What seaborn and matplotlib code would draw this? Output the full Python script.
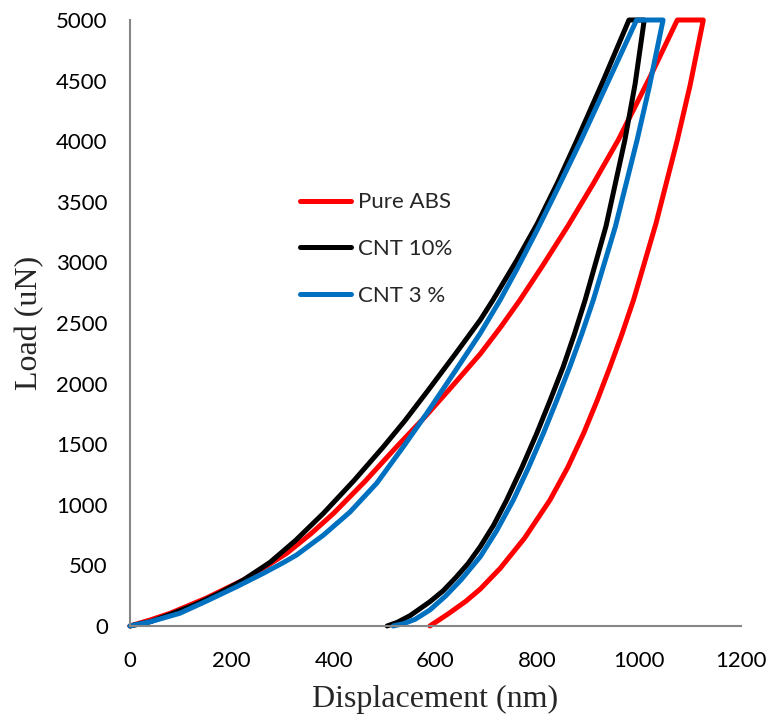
import matplotlib
matplotlib.use("Agg")
import matplotlib.pyplot as plt
import numpy as np
import pandas as pd
import seaborn as sns

sns.set_style("white")
plt.rcParams['font.family'] = ['Lato', 'DejaVu Sans']

# values (displacement in nm, load in uN)
# each curve: loading, hold at 5000 uN, unloading
abs_disp = [0, 40, 79, 150, 223, 265, 308, 355, 400, 462, 524, 580, 630, 688, 727, 766,
            810, 860, 910, 959, 1022, 1075,
            1126, 1100, 1075, 1033, 989, 966, 943, 918, 891, 860, 825, 775, 727, 688,
            660, 625, 589]
abs_load = [0, 50, 105, 230, 380, 485, 600, 760, 930, 1195, 1480, 1728, 1965, 2245, 2460, 2690,
            2970, 3300, 3650, 4010, 4535, 5000,
            5000, 4460, 4010, 3320, 2690, 2405, 2140, 1865, 1590, 1310, 1040, 725, 475, 305,
            205, 100, 0]

cnt10_disp = [0, 40, 85, 130, 175, 223, 275, 325, 380, 440, 498, 540, 586, 640, 688, 713,
              760, 800, 840, 878, 930, 980,
              1010, 992, 972, 935, 894, 873, 851, 825, 799, 770, 740, 714, 688, 664,
              640, 615, 589, 550, 525, 505]
cnt10_load = [0, 35, 105, 180, 270, 380, 525, 705, 930, 1200, 1480, 1694, 1947, 2250, 2525, 2690,
              3020, 3320, 3660, 4010, 4505, 5000,
              5000, 4470, 4010, 3300, 2690, 2410, 2140, 1860, 1590, 1310, 1040, 830, 655, 515,
              400, 290, 200, 85, 30, 0]

cnt3_disp = [0, 40, 98, 150, 210, 262, 300, 327, 380, 432, 485, 537, 583, 635, 688, 727,
             760, 800, 840, 885, 940, 995,
             1047, 1020, 996, 953, 910, 887, 864, 838, 812, 783, 753, 720, 688, 650,
             620, 589, 560, 538, 517]
cnt3_load = [0, 35, 105, 205, 325, 435, 520, 585, 750, 940, 1180, 1480, 1755, 2080, 2415, 2690,
             2945, 3270, 3610, 4000, 4500, 5000,
             5000, 4450, 4010, 3290, 2690, 2405, 2140, 1860, 1590, 1310, 1040, 785, 572, 380,
             248, 132, 55, 20, 0]

labels = ['Pure ABS', 'CNT 10%', 'CNT 3 %']
colors = ['#FF0000', '#000000', '#0070C0']

df = pd.concat([
    pd.DataFrame({'disp': abs_disp, 'load': abs_load, 'sample': labels[0]}),
    pd.DataFrame({'disp': cnt10_disp, 'load': cnt10_load, 'sample': labels[1]}),
    pd.DataFrame({'disp': cnt3_disp, 'load': cnt3_load, 'sample': labels[2]}),
], ignore_index=True)

fig = plt.figure(figsize=(7.7, 7.22), dpi=100)
ax = fig.add_axes([0.1688, 0.133, 0.7935, 0.8393])

sns.lineplot(data=df, x='disp', y='load', hue='sample', hue_order=labels,
             palette=dict(zip(labels, colors)), sort=False, estimator=None,
             linewidth=3.6, solid_capstyle='round', solid_joinstyle='round', ax=ax)
for line in ax.lines:
    line.set_clip_on(False)

ax.set_xlim(0, 1200)
ax.set_ylim(0, 5000)
ax.set_xticks(np.arange(0, 1201, 200))
ax.set_yticks(np.arange(0, 5001, 500))

for side in ['top', 'right']:
    ax.spines[side].set_visible(False)
for side in ['left', 'bottom']:
    ax.spines[side].set_color('#868686')
    ax.spines[side].set_linewidth(1.5)
ax.tick_params(axis='both', direction='out', length=6, width=1.5, color='#868686',
               labelsize=16, labelcolor='black')
ax.tick_params(axis='x', pad=12)
ax.tick_params(axis='y', pad=10)

ax.set_xlabel('Displacement (nm)', fontsize=23, family='Liberation Serif', labelpad=10)
ax.set_ylabel('Load (uN)', fontsize=23, family='Liberation Serif', labelpad=9)

sns.move_legend(ax, 'center left', bbox_to_anchor=(0.278, 0.622), title=None, frameon=False,
                fontsize=16, handlelength=2.3, handletextpad=0.3, labelspacing=1.2,
                borderpad=0, borderaxespad=0)

fig.savefig('out.png', dpi=100)
